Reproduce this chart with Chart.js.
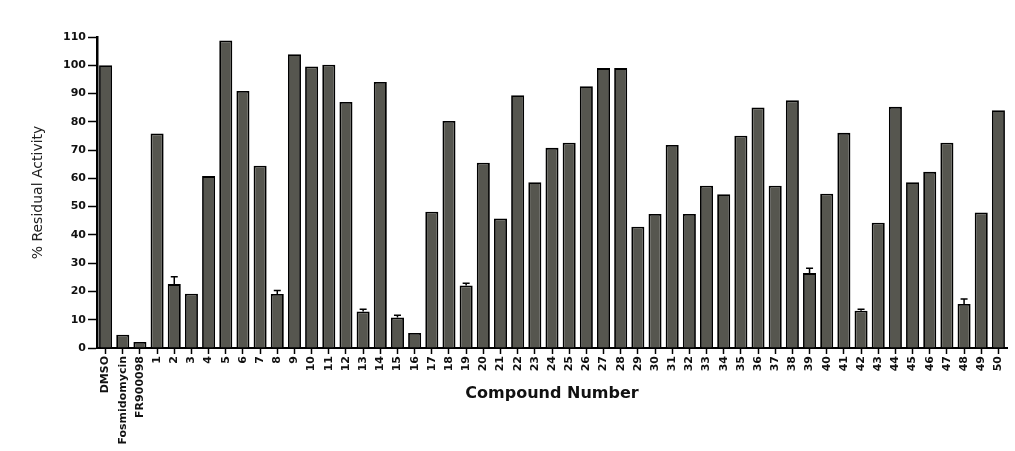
<!DOCTYPE html>
<html>
<head>
<meta charset="utf-8">
<script src="https://cdn.jsdelivr.net/npm/chart.js@4/dist/chart.umd.min.js"></script>
<style>
  html, body { margin: 0; padding: 0; background: #fff; }
  #wrap { width: 1015px; height: 451px; }
</style>
</head>
<body>
<div id="wrap"><canvas id="chart" width="1015" height="451"></canvas></div>
<script>
const compounds = ['DMSO', 'Fosmidomycin', 'FR900098'];
for (let n = 1; n <= 50; n++) compounds.push(String(n));

const residual = [
    100, 4.7, 2.1,
    75.9, 22.6, 19.2, 60.8, 108.8, 90.9, 64.5, 19.1, 103.9, 99.6,
    100.2, 87.0, 12.9, 94.1, 10.8, 5.3, 48.2, 80.3, 22.1, 65.5,
    45.8, 89.4, 58.6, 70.8, 72.6, 92.6, 99.0, 99.0, 42.9, 47.4,
    71.8, 47.4, 57.4, 54.4, 75.1, 85.1, 57.4, 87.6, 26.5, 54.6,
    76.1, 13.2, 44.3, 85.3, 58.6, 62.3, 72.6, 15.6, 47.9, 84.1
];

// upper error (only the few bars where a cap is visible)
const errUp = [
    0, 0, 0,
    0, 2.6, 0, 0, 0, 0, 0, 1.2, 0, 0,
    0, 0, 0.8, 0, 0.8, 0, 0, 0, 0.8, 0,
    0, 0, 0, 0, 0, 0, 0, 0, 0, 0,
    0, 0, 0, 0, 0, 0, 0, 0, 1.7, 0,
    0, 0.5, 0, 0, 0, 0, 0, 1.7, 0, 0
];

const yTicks = [0, 10, 20, 30, 40, 50, 60, 70, 80, 90, 100, 110];

const errorBars = {
    id: 'errorBars',
    afterDatasetsDraw(chart) {
        const ctx = chart.ctx;
        const meta = chart.getDatasetMeta(0);
        const y = chart.scales.y;
        ctx.save();
        ctx.strokeStyle = '#000';
        ctx.lineWidth = 1.5;
        errUp.forEach((e, i) => {
            if (!e) return;
            const bar = meta.data[i];
            const yTop = y.getPixelForValue(residual[i] + e);
            ctx.beginPath();
            ctx.moveTo(bar.x, bar.y);
            ctx.lineTo(bar.x, yTop);
            ctx.moveTo(bar.x - 3.5, yTop);
            ctx.lineTo(bar.x + 3.5, yTop);
            ctx.stroke();
        });
        ctx.restore();
    }
};

new Chart(document.getElementById('chart'), {
    type: 'bar',
    data: {
        labels: compounds,
        datasets: [{
            data: residual,
            backgroundColor: '#56564f',
            borderColor: '#000',
            borderWidth: 1.8,
            categoryPercentage: 1,
            barPercentage: 0.76
        }]
    },
    options: {
        responsive: false,
        animation: false,
        layout: { padding: { top: 37, right: 8, left: 18, bottom: 0 } },
        plugins: { legend: { display: false }, tooltip: { enabled: false } },
        scales: {
            x: {
                offset: true,
                afterFit: s => { s.height = 103; },
                grid: { offset: false, drawOnChartArea: false, color: '#000', tickLength: 6, tickWidth: 1.5 },
                border: { color: '#000', width: 2 },
                ticks: {
                    autoSkip: false, minRotation: 90, maxRotation: 90, padding: 2,
                    color: '#111', font: { family: 'DejaVu Sans', size: 11, weight: 'bold' }
                },
                title: {
                    display: true, text: 'Compound Number', color: '#111',
                    font: { family: 'DejaVu Sans', size: 16, weight: 'bold' },
                    padding: { top: 0, bottom: 48 }
                }
            },
            y: {
                min: 0, max: 110,
                afterFit: s => { s.width = 79; },
                afterBuildTicks: s => { s.ticks = yTicks.map(v => ({ value: v })); },
                grid: { drawOnChartArea: false, color: '#000', tickLength: 9, tickWidth: 1.5 },
                border: { color: '#000', width: 2.5 },
                ticks: {
                    padding: 2, color: '#111',
                    font: { family: 'DejaVu Sans', size: 11, weight: 'bold' }
                },
                title: {
                    display: true, text: '% Residual Activity', color: '#222',
                    font: { family: 'DejaVu Sans', size: 14 },
                    padding: { top: 12, bottom: 0 }
                }
            }
        }
    },
    plugins: [errorBars]
});
</script>
</body>
</html>
